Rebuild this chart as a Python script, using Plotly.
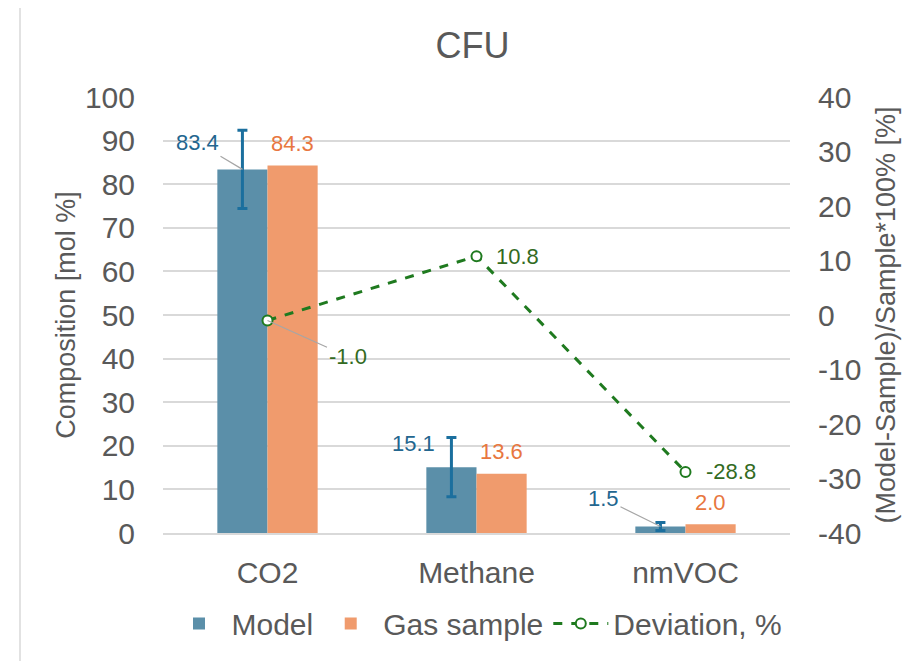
import plotly.graph_objects as go

categories = ["CO2", "Methane", "nmVOC"]
model_values = [83.4, 15.1, 1.5]
model_errors = [9.0, 6.8, 0.9]
sample_values = [84.3, 13.6, 2.0]
deviation_values = [-1.0, 10.8, -28.8]
left_ticks = list(range(0, 101, 10))
right_ticks = list(range(-40, 41, 10))
right_tick_labels = [str(t) for t in right_ticks]

FONT = "Liberation Sans, Arial, sans-serif"
GRAY = "#595959"
BLUE = "#5B8FA9"
ORANGE = "#F09B6D"
ERR = "#1B6F9E"
BLUE_TXT = "#23668F"
ORANGE_TXT = "#E8773F"
GREEN = "#1F7A1F"
GREEN_TXT = "#336B1F"
LEADER = "#A6A6A6"

fig = go.Figure()
fig.add_trace(go.Bar(
    x=categories, y=model_values, name="Model",
    marker=dict(color=BLUE, line=dict(width=0)),
    error_y=dict(type="data", array=model_errors, visible=True,
                 color=ERR, thickness=3, width=5),
))
fig.add_trace(go.Bar(
    x=categories, y=sample_values, name="Gas sample",
    marker=dict(color=ORANGE, line=dict(width=0)),
))
fig.add_trace(go.Scatter(
    x=categories, y=deviation_values, name="Deviation, %", yaxis="y2",
    mode="lines+markers",
    line=dict(color=GREEN, width=3, dash="dash"),
    marker=dict(symbol="circle", size=10, color="white",
                line=dict(color=GREEN, width=2)),
))

ann = []
model_offsets = [(-45, -27, True), (-38, -24, False), (-57, -28, True)]
for c, v, (dx, dy, lead) in zip(categories, model_values, model_offsets):
    if lead:
        ann.append(dict(x=c, y=v, xref="x", yref="y", xshift=-25,
                        text=f"{v:.1f}", showarrow=True, arrowhead=0,
                        arrowwidth=1.2, arrowcolor=LEADER, ax=dx, ay=dy,
                        standoff=0,
                        font=dict(size=22, color=BLUE_TXT, family=FONT)))
    else:
        ann.append(dict(x=c, y=v, xref="x", yref="y", xshift=-25 + dx,
                        yshift=-dy, text=f"{v:.1f}", showarrow=False,
                        font=dict(size=22, color=BLUE_TXT, family=FONT)))
for c, v in zip(categories, sample_values):
    ann.append(dict(x=c, y=v, xref="x", yref="y", xshift=25, yshift=22,
                    text=f"{v:.1f}", showarrow=False,
                    font=dict(size=22, color=ORANGE_TXT, family=FONT)))
dev_offsets = [(80, 36, True), (41, 0, False), (45, 0, False)]
for c, v, (dx, dy, lead) in zip(categories, deviation_values, dev_offsets):
    if lead:
        ann.append(dict(x=c, y=v, xref="x", yref="y2", text=f"{v:.1f}",
                        showarrow=True, arrowhead=0, arrowwidth=1.2,
                        arrowcolor=LEADER, ax=dx, ay=dy, standoff=0,
                        font=dict(size=22, color=GREEN_TXT, family=FONT)))
    else:
        ann.append(dict(x=c, y=v, xref="x", yref="y2", xshift=dx,
                        text=f"{v:.1f}", showarrow=False,
                        font=dict(size=22, color=GREEN_TXT, family=FONT)))

OFF = 8  # page body margin
W, H = 904, 653
ML, MT = 163 - OFF, 97 - OFF
pw, ph = 627, 438
MR, MB = W - ML - pw, H - MT - ph

def px2paper_x(px):
    return (px - OFF - ML) / pw

def px2paper_y(py):
    return (MT + ph - (py - OFF)) / ph

fig.update_layout(
    width=W, height=H, autosize=False,
    margin=dict(l=ML, r=MR, t=MT, b=MB, pad=0),
    paper_bgcolor="white", plot_bgcolor="white",
    font=dict(family=FONT, color=GRAY),
    barmode="group", bargap=0.52, bargroupgap=0,
    title=dict(text="CFU", x=px2paper_x(472.5), xref="paper", xanchor="center",
               y=(H - (45 - OFF)) / H, yref="container", yanchor="middle",
               font=dict(size=36, color=GRAY, family=FONT)),
    xaxis=dict(showgrid=False, showline=True, linecolor="#D9D9D9", linewidth=1.5,
               ticks="", tickfont=dict(size=30, color=GRAY, family=FONT),
               ticklabelstandoff=12, automargin=False),
    yaxis=dict(range=[0, 100], tickvals=left_ticks, showgrid=True,
               gridcolor="#D9D9D9", gridwidth=1.5, zeroline=False, showline=False,
               ticks="", tickfont=dict(size=30, color=GRAY, family=FONT),
               ticklabelstandoff=27, automargin=False,
               title=dict(text="Composition [mol %]", standoff=1,
                          font=dict(size=27, color=GRAY, family=FONT))),
    yaxis2=dict(range=[-40, 40], tickvals=right_ticks, ticktext=right_tick_labels,
                overlaying="y", side="right",
                showgrid=False, zeroline=False, showline=False, ticks="",
                tickfont=dict(size=30, color=GRAY, family=FONT),
                ticklabelstandoff=27, automargin=False,
                title=dict(text="(Model-Sample)/Sample*100% [%]", standoff=15,
                           font=dict(size=27, color=GRAY, family=FONT))),
    legend=dict(orientation="h", x=px2paper_x(477), xanchor="center",
                y=px2paper_y(626), yanchor="middle",
                font=dict(size=30, color=GRAY, family=FONT),
                bgcolor="rgba(0,0,0,0)", itemwidth=55, traceorder="normal"),
    annotations=ann,
    shapes=[dict(type="rect", xref="paper", yref="paper",
                 x0=px2paper_x(20), x1=px2paper_x(930),
                 y0=px2paper_y(680), y1=px2paper_y(6),
                 line=dict(color="#D9D9D9", width=1.5), fillcolor="rgba(0,0,0,0)",
                 layer="below")],
)

fig.write_html("out.html")
